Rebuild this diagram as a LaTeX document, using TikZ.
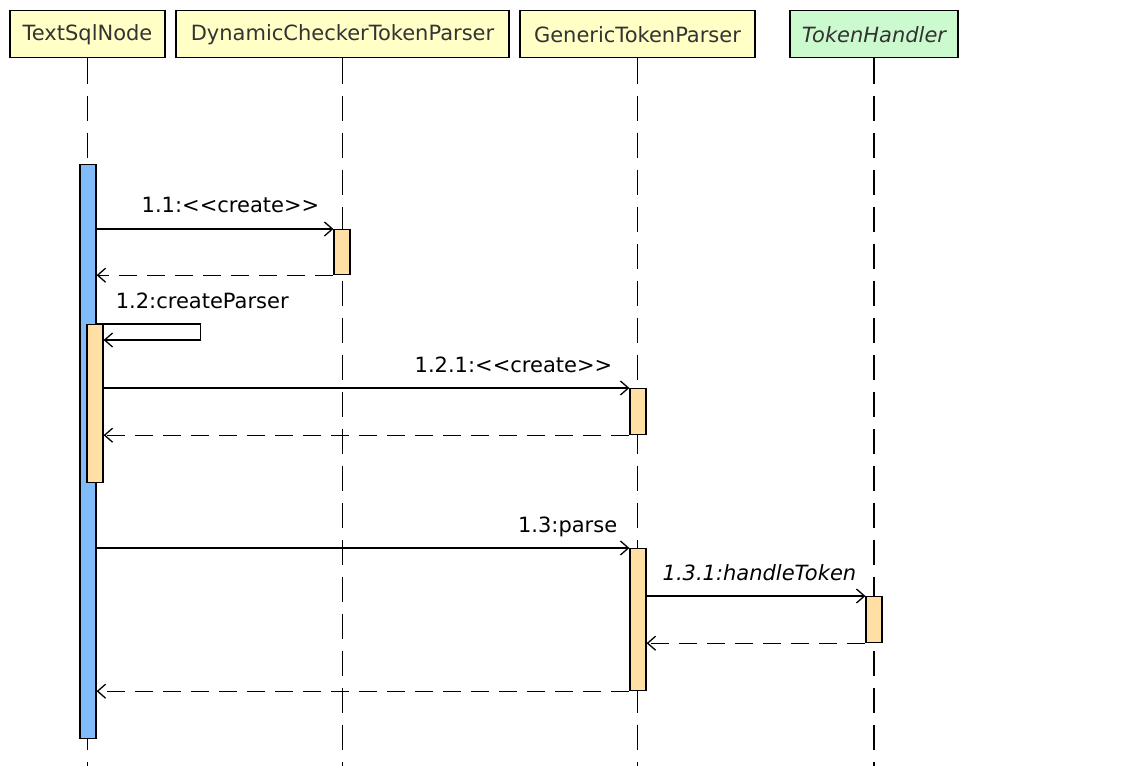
\documentclass[tikz,border=0pt]{standalone}
\usepackage{fontspec}
\setmainfont{DejaVu Sans}
\usetikzlibrary{arrows.meta,positioning}
\definecolor{headyellow}{HTML}{FFFFC6}
\definecolor{headgreen}{HTML}{CCFACF}
\definecolor{actorange}{HTML}{FFDFA3}
\definecolor{actblue}{HTML}{80BCFA}
\definecolor{textgray}{HTML}{333333}

\begin{document}
\begin{tikzpicture}[x=1pt,y=-1pt,
  font=\fontsize{21}{24}\selectfont,
  headnode/.style={draw,line width=1.5pt,fill=headyellow,text=textgray,minimum height=47pt,inner sep=0pt,anchor=north},
  ifacenode/.style={headnode,fill=headgreen,font=\fontsize{21}{24}\selectfont\itshape},
  lifeline/.style={draw,line width=1.2pt,dash pattern=on 25pt off 12pt},
  actnode/.style={draw,line width=1.2pt,fill=actorange,minimum width=16pt,inner sep=0pt,anchor=north},
  callmsg/.style={draw,line width=1.2pt,-{Straight Barb[length=8pt,width=14pt,line width=1.3pt]}},
  retmsg/.style={callmsg,dash pattern=on 18pt off 10pt},
  msglabel/.style={anchor=base east,inner sep=0pt}
]
\useasboundingbox (0,0) rectangle (1140,776);
\coordinate (bot) at (0,766);
% participants
\node[headnode,minimum width=155pt] (ts) at (87.5,10) {TextSqlNode};
\node[headnode,minimum width=333pt] (dc) at (342.5,10) {DynamicCheckerTokenParser};
\node[headnode,minimum width=235pt] (gt) at (637.5,10) {GenericTokenParser};
\node[ifacenode,minimum width=168pt] (th) at (874,10) {TokenHandler};
% lifelines
\path[lifeline] (ts.south) -- (ts.south |- bot);
\path[lifeline] (dc.south) -- (dc.south |- bot);
\path[lifeline] (gt.south) -- (gt.south |- bot);
\path[lifeline] (th.south) -- (th.south |- bot);
% activations
\node[actnode,fill=actblue,minimum height=574pt] (a0) at (88,164) {};
\node[actnode,minimum height=45pt] (a1) at (342,229) {};
\node[actnode,minimum height=158pt] (a2) at (95,324) {};
\node[actnode,minimum height=46pt] (a3) at (638,388) {};
\node[actnode,minimum height=142pt] (a4) at (638,548) {};
\node[actnode,minimum height=46pt] (a5) at (874,596) {};
% messages
\path[callmsg] (a0.east |- a1.north) -- (a1.north west);
\path[retmsg] (a1.south west) -- (a0.east |- a1.south);
\path[callmsg] (a0.east |- a2.north) -- ++(104,0) -- ++(0,16) -- ([yshift=-16pt]a2.north east);
\path[callmsg] (a2.east |- a3.north) -- (a3.north west);
\path[retmsg] (a3.south west) -- (a2.east |- a3.south);
\path[callmsg] (a0.east |- a4.north) -- (a4.north west);
\path[callmsg] (a4.east |- a5.north) -- (a5.north west);
\path[retmsg] (a5.south west) -- (a4.east |- a5.south);
\path[retmsg] (a4.south west) -- (a0.east |- a4.south);
% labels
\node[msglabel] (l1) at ([xshift=-14pt,yshift=17pt]a1.north west) {1.1:<{}<create>{}>};
\node[msglabel,anchor=base west] (l2) at ([xshift=19pt,yshift=16pt]a0.east |- a2.north) {1.2:createParser};
\node[msglabel] (l3) at ([xshift=-17pt,yshift=16pt]a3.north west) {1.2.1:<{}<create>{}>};
\node[msglabel] (l4) at ([xshift=-12pt,yshift=16pt]a4.north west) {1.3:parse};
\node[msglabel,font=\fontsize{21}{24}\selectfont\itshape] (l5) at ([xshift=-9pt,yshift=16pt]a5.north west) {1.3.1:handleToken};
\end{tikzpicture}
\end{document}
